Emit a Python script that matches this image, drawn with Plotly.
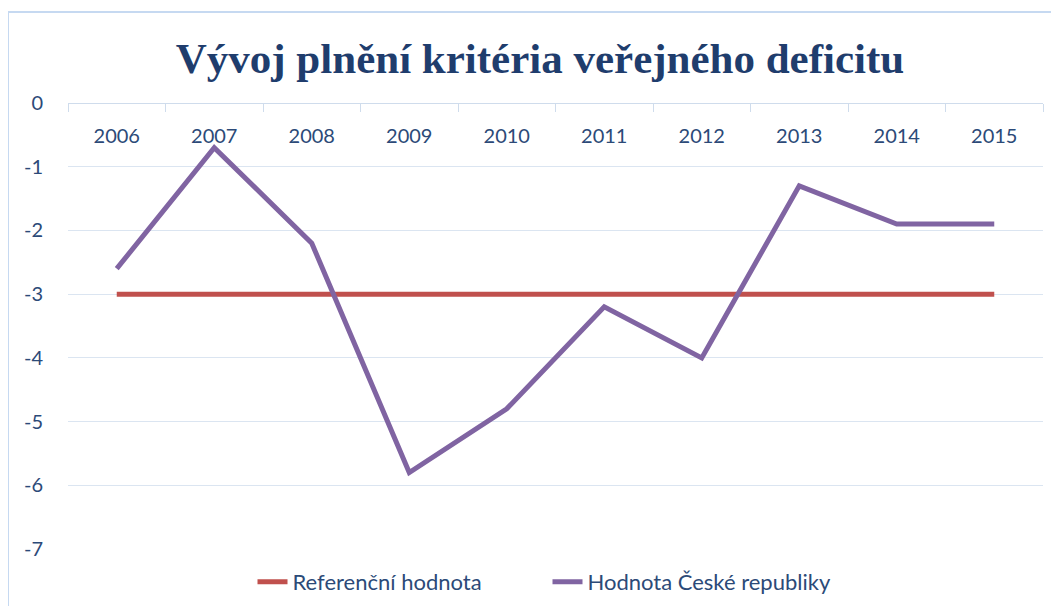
import plotly.graph_objects as go

years = ["2006", "2007", "2008", "2009", "2010", "2011", "2012", "2013", "2014", "2015"]
reference = [-3, -3, -3, -3, -3, -3, -3, -3, -3, -3]
czech = [-2.6, -0.7, -2.2, -5.8, -4.8, -3.2, -4.0, -1.3, -1.9, -1.9]
y_ticks = [0, -1, -2, -3, -4, -5, -6, -7]

title_text = "Vývoj plnění kritéria veřejného deficitu"
name_ref = "Referenční hodnota"
name_cz = "Hodnota České republiky"

text_color = "#2c4a78"
grid_color = "#dbe5f1"

W, H = 1043, 598  # page body has an 8px margin
L, R, T, B = 60, 8, 95, 57
PW, PH = W - L - R, H - T - B

fig = go.Figure()
fig.add_trace(go.Scatter(x=years, y=reference, mode="lines", name=name_ref,
                         line=dict(color="#c0504d", width=5)))
fig.add_trace(go.Scatter(x=years, y=czech, mode="lines", name=name_cz,
                         line=dict(color="#8064a2", width=5)))

fig.update_layout(
    width=W, height=H,
    margin=dict(l=L, r=R, t=T, b=B, autoexpand=False),
    paper_bgcolor="white", plot_bgcolor="white",
    font=dict(family="Lato", color=text_color),
    title=dict(text="<b>" + title_text + "</b>", x=532 / W, xanchor="center",
               y=1 - 50 / H, yanchor="middle", yref="container",
               font=dict(family="Liberation Serif", size=43, color="#1f3d6d")),
    showlegend=True,
    legend=dict(orientation="h", x=(547.5 - 68) / PW, xanchor="center",
                y=-33 / PH, yanchor="middle",
                font=dict(size=22, color=text_color), entrywidth=250,
                entrywidthmode="pixels", bgcolor="rgba(0,0,0,0)"),
    xaxis=dict(type="category", range=[-0.5, 9.5], anchor="free", position=1, side="bottom",
               showline=True, linecolor="#cfdcec", linewidth=1,
               ticks="outside", tickson="boundaries", ticklen=8, tickcolor="#cfdcec",
               showgrid=False, zeroline=False,
               tickfont=dict(size=20, color=text_color), ticklabelstandoff=15),
    yaxis=dict(range=[-7, 0], tickvals=y_ticks, ticktext=[str(v) for v in y_ticks],
               showgrid=True, gridcolor=grid_color, gridwidth=1, zeroline=False,
               showline=False, ticks="", tickfont=dict(size=20, color=text_color),
               ticklabelstandoff=24),
    shapes=[dict(type="rect", xref="paper", yref="paper",
                 x0=-60 / PW, x1=1.2, y0=-0.3, y1=1 + 91 / PH,
                 line=dict(color="#c6d9f1", width=2), fillcolor="rgba(0,0,0,0)", layer="below")],
)

fig.write_html("out.html")
